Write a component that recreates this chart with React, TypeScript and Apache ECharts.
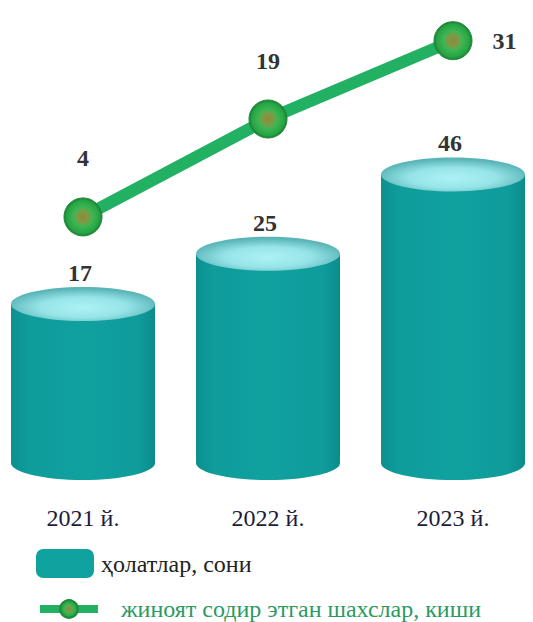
import React, { useEffect, useRef } from "react";
import * as echarts from "echarts";

const categories = ["2021 й.", "2022 й.", "2023 й."];
const casesValues = [17, 25, 46];
const personsValues = [4, 19, 31];
const casesName = "ҳолатлар, сони";
const personsName = "жиноят содир этган шахслар, киши";

const SERIF = "Liberation Serif";

export default function App() {
  const ref = useRef<HTMLDivElement>(null);
  useEffect(() => {
    if (!ref.current) return;
    const chart = echarts.init(ref.current, null, { renderer: "svg" });
    const bodyGrad = new echarts.graphic.LinearGradient(0, 0, 1, 0, [
      { offset: 0, color: "#0C8F8F" },
      { offset: 0.12, color: "#0F9C9B" },
      { offset: 0.5, color: "#10A19F" },
      { offset: 0.88, color: "#0F9C9B" },
      { offset: 1, color: "#0B8C8C" },
    ]);
    const topGrad = new echarts.graphic.RadialGradient(0.5, 0.6, 0.55, [
      { offset: 0, color: "#ADF2F4" },
      { offset: 0.55, color: "#96E4E7" },
      { offset: 1, color: "#5AB5B7" },
    ]);
    const markerGrad = new echarts.graphic.RadialGradient(0.5, 0.5, 0.5, [
      { offset: 0, color: "#8A8A3C" },
      { offset: 0.3, color: "#7E9A45" },
      { offset: 0.5, color: "#3DB653" },
      { offset: 0.85, color: "#27A444" },
      { offset: 1, color: "#1A7F33" },
    ]);
    const rx = 72;
    const ry = 17;
    const option = {
      animation: false,
      textStyle: { fontFamily: SERIF },
      grid: { left: 83, right: 80, top: 10, bottom: 622 - 463 },
      xAxis: {
        type: "category",
        data: categories,
        boundaryGap: false,
        axisLine: { show: false },
        axisTick: { show: false },
        splitLine: { show: false },
        axisLabel: {
          margin: 43,
          fontFamily: SERIF,
          fontSize: 24,
          color: "#1C1C3C",
        },
      },
      yAxis: [
        { type: "log", min: 5, max: 163, show: false, splitLine: { show: false } },
        { type: "value", min: -33.7, max: 35.7, show: false, splitLine: { show: false } },
      ],
      legend: [
        {
          left: 31,
          top: 544,
          itemWidth: 58,
          itemHeight: 29,
          data: [{ name: casesName, icon: "roundRect", itemStyle: { color: "#0FA29F" } }],
          textStyle: { fontFamily: SERIF, fontSize: 24, color: "#222222", padding: [0, 0, 0, 2] },
        },
        {
          left: 31,
          top: 592,
          itemWidth: 58,
          itemHeight: 22,
          data: [{ name: personsName }],
          lineStyle: { width: 8, color: "#22B063" },
          textStyle: { fontFamily: SERIF, fontSize: 24, color: "#2A9A62", padding: [0, 0, 0, 18] },
        },
      ],
      series: [
        {
          type: "custom",
          name: casesName,
          yAxisIndex: 0,
          itemStyle: { color: "#0FA29F" },
          data: casesValues.map((v, i) => [i, v]),
          encode: { x: 0, y: 1 },
          renderItem: (params: any, api: any) => {
            const idx = api.value(0);
            const val = api.value(1);
            const top = api.coord([idx, val]);
            const cs = params.coordSys;
            const baseY = cs.y + cs.height;
            const cx = top[0];
            return {
              type: "group",
              children: [
                { type: "ellipse", shape: { cx, cy: baseY, rx, ry }, style: { fill: bodyGrad } },
                {
                  type: "rect",
                  shape: { x: cx - rx, y: top[1], width: rx * 2, height: baseY - top[1] },
                  style: { fill: bodyGrad },
                },
                { type: "ellipse", shape: { cx, cy: top[1], rx, ry }, style: { fill: topGrad } },
                {
                  type: "text",
                  style: {
                    text: String(val),
                    x: cx - 3,
                    y: top[1] - ry - 2,
                    align: "center",
                    verticalAlign: "bottom",
                    fontFamily: SERIF,
                    fontWeight: "bold",
                    fontSize: 24,
                    fill: "#333333",
                  },
                },
              ],
            };
          },
          z: 1,
        },
        {
          type: "line",
          name: personsName,
          yAxisIndex: 1,
          data: personsValues.map((v, i) =>
            i === personsValues.length - 1
              ? { value: v, label: { position: "right", distance: 20 } }
              : { value: v }
          ),
          symbol: "circle",
          symbolSize: 38,
          lineStyle: { width: 12, color: "#22B063" },
          itemStyle: { color: markerGrad, borderColor: "#1E8A3A", borderWidth: 1 },
          label: {
            show: true,
            position: "top",
            distance: 27,
            fontFamily: SERIF,
            fontWeight: "bold",
            fontSize: 24,
            color: "#333333",
          },
          z: 3,
        },
      ],
    };
    chart.setOption(option as any);
    return () => chart.dispose();
  }, []);
  return (
    <div
      ref={ref}
      style={{ position: "fixed", left: 0, top: 0, width: 533, height: 622, background: "#fff" }}
    />
  );
}
